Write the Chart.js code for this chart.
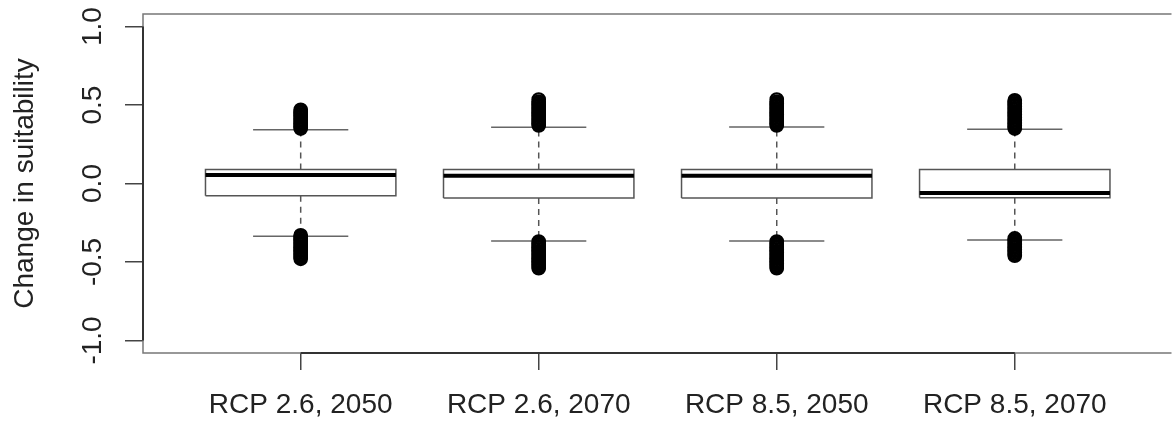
<!DOCTYPE html>
<html>
<head>
<meta charset="utf-8">
<script src="https://cdn.jsdelivr.net/npm/chart.js@4.4.1/dist/chart.umd.min.js"></script>
<style>
  body { margin: 0; background: #fff; }
  #wrap { width: 1175px; height: 426px; }
</style>
</head>
<body>
<div id="wrap"><canvas id="boxChart"></canvas></div>
<script>
// DATA
const categories = ["RCP 2.6, 2050", "RCP 2.6, 2070", "RCP 8.5, 2050", "RCP 8.5, 2070"];
const q1 = [-0.078, -0.092, -0.092, -0.091];
const medians = [0.054, 0.05, 0.05, -0.06];
const q3 = [0.089, 0.089, 0.089, 0.089];
const whiskerLow = [-0.336, -0.367, -0.367, -0.36];
const whiskerHigh = [0.342, 0.359, 0.36, 0.346];
const yTicks = [-1, -0.5, 0, 0.5, 1];

// outliers per group
const outliersHigh = [
    [0.35, 0.36, 0.37, 0.38, 0.39, 0.40, 0.41, 0.42, 0.43, 0.44, 0.45, 0.46, 0.47],
    [0.37, 0.38, 0.39, 0.40, 0.41, 0.42, 0.43, 0.44, 0.45, 0.46, 0.47, 0.48, 0.49, 0.50, 0.51, 0.52, 0.535],
    [0.37, 0.38, 0.39, 0.40, 0.41, 0.42, 0.43, 0.44, 0.45, 0.46, 0.47, 0.48, 0.49, 0.50, 0.51, 0.52, 0.535],
    [0.35, 0.36, 0.37, 0.38, 0.39, 0.40, 0.41, 0.42, 0.43, 0.44, 0.45, 0.46, 0.47, 0.48, 0.49, 0.50, 0.51, 0.52, 0.53]
];
const outliersLow = [
    [-0.33, -0.34, -0.35, -0.36, -0.37, -0.38, -0.39, -0.40, -0.41, -0.42, -0.43, -0.44, -0.45, -0.46, -0.47, -0.48],
    [-0.37, -0.38, -0.39, -0.40, -0.41, -0.42, -0.43, -0.44, -0.45, -0.46, -0.47, -0.48, -0.49, -0.50, -0.51, -0.52, -0.53, -0.54],
    [-0.37, -0.38, -0.39, -0.40, -0.41, -0.42, -0.43, -0.44, -0.45, -0.46, -0.47, -0.48, -0.49, -0.50, -0.51, -0.52, -0.53, -0.54],
    [-0.35, -0.36, -0.37, -0.38, -0.39, -0.40, -0.41, -0.42, -0.43, -0.44, -0.45, -0.46]
];

const BOX_HALF = 0.4;
const CAP_HALF = 0.2;
const FONT = "'Liberation Sans', Arial, Helvetica, sans-serif";

// build point lists, null y breaks the line between segments
const boxPts = [], medPts = [], dashPts = [], capPts = [], outPts = [];
categories.forEach((c, i) => {
    const x = i + 1;
    boxPts.push({x: x - BOX_HALF, y: q1[i]}, {x: x + BOX_HALF, y: q1[i]},
        {x: x + BOX_HALF, y: q3[i]}, {x: x - BOX_HALF, y: q3[i]},
        {x: x - BOX_HALF, y: q1[i]}, {x: x, y: null});
    medPts.push({x: x - BOX_HALF, y: medians[i]}, {x: x + BOX_HALF, y: medians[i]}, {x: x, y: null});
    dashPts.push({x: x, y: q3[i]}, {x: x, y: whiskerHigh[i]}, {x: x, y: null},
        {x: x, y: q1[i]}, {x: x, y: whiskerLow[i]}, {x: x, y: null});
    capPts.push({x: x - CAP_HALF, y: whiskerHigh[i]}, {x: x + CAP_HALF, y: whiskerHigh[i]}, {x: x, y: null},
        {x: x - CAP_HALF, y: whiskerLow[i]}, {x: x + CAP_HALF, y: whiskerLow[i]}, {x: x, y: null});
    outliersHigh[i].concat(outliersLow[i]).forEach(v => outPts.push({x: x, y: v}));
});

// frame + axis lines, like R's box() and axis()
const framePlugin = {
    id: "frame",
    beforeDatasetsDraw(chart) {
        const {ctx, chartArea: a, scales: {x, y}} = chart;
        ctx.save();
        ctx.strokeStyle = "#777";
        ctx.lineWidth = 1.5;
        ctx.beginPath();
        ctx.moveTo(a.right + 5, a.top);
        ctx.lineTo(a.left, a.top);
        ctx.lineTo(a.left, a.bottom);
        ctx.lineTo(a.right + 5, a.bottom);
        ctx.stroke();
        ctx.strokeStyle = "#333";
        ctx.lineWidth = 2;
        ctx.beginPath();
        ctx.moveTo(x.getPixelForValue(1), a.bottom);
        ctx.lineTo(x.getPixelForValue(4), a.bottom);
        ctx.moveTo(a.left, y.getPixelForValue(1));
        ctx.lineTo(a.left, y.getPixelForValue(-1));
        ctx.stroke();
        ctx.restore();
    }
};

const ctx = document.getElementById("boxChart");
new Chart(ctx, {
    type: "line",
    data: {
        datasets: [
            {
                label: "outliers",
                data: outPts,
                showLine: false,
                pointRadius: 6.2,
                pointBorderWidth: 2.3,
                pointBorderColor: "#000",
                pointBackgroundColor: "rgba(0,0,0,0)"
            },
            {
                label: "median",
                data: medPts,
                borderColor: "#000",
                borderWidth: 4,
                pointRadius: 0,
                spanGaps: false
            },
            {
                label: "box",
                data: boxPts,
                borderColor: "#555",
                borderWidth: 1.5,
                pointRadius: 0,
                spanGaps: false
            },
            {
                label: "whisker",
                data: dashPts,
                borderColor: "#555",
                borderWidth: 1.5,
                borderDash: [6, 5],
                pointRadius: 0,
                spanGaps: false
            },
            {
                label: "caps",
                data: capPts,
                borderColor: "#666",
                borderWidth: 1.5,
                pointRadius: 0,
                spanGaps: false
            }
        ]
    },
    options: {
        responsive: true,
        maintainAspectRatio: false,
        animation: false,
        layout: { padding: { top: 14, right: 0, left: 0, bottom: 0 } },
        plugins: {
            legend: { display: false },
            tooltip: { enabled: false }
        },
        scales: {
            x: {
                type: "linear",
                min: 0.3375,
                max: 4.6375,
                afterBuildTicks: s => { s.ticks = categories.map((c, i) => ({value: i + 1})); },
                afterFit: s => { s.height = 73; s.paddingLeft = 0; s.paddingRight = 0; },
                border: { display: false },
                grid: { drawOnChartArea: false, tickLength: 17, color: "#444", lineWidth: 1.5 },
                ticks: {
                    color: "#222",
                    padding: 18,
                    maxRotation: 0,
                    font: { family: FONT, size: 28 },
                    callback: v => categories[v - 1]
                }
            },
            y: {
                min: -1.08,
                max: 1.08,
                afterBuildTicks: s => { s.ticks = yTicks.map(v => ({value: v})); },
                afterFit: s => { s.width = 143; s.paddingTop = 0; s.paddingBottom = 0; },
                border: { display: false },
                grid: { drawOnChartArea: false, tickLength: 18, color: "#444", lineWidth: 1.5 },
                ticks: {
                    color: "#222",
                    padding: 8,
                    minRotation: 90,
                    maxRotation: 90,
                    crossAlign: "center",
                    font: { family: FONT, size: 28 },
                    callback: v => v.toFixed(1)
                },
                title: {
                    display: true,
                    text: "Change in suitability",
                    color: "#222",
                    padding: { top: 8, bottom: 0 },
                    font: { family: FONT, size: 28, lineHeight: 1.2 }
                }
            }
        }
    },
    plugins: [framePlugin]
});
</script>
</body>
</html>
